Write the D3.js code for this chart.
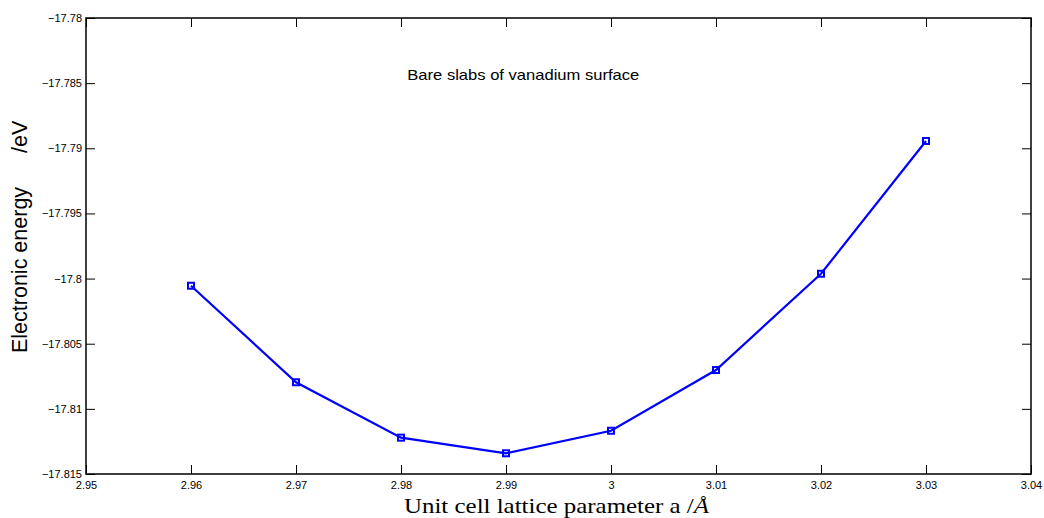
<!DOCTYPE html>
<html>
<head>
<meta charset="utf-8">
<script src="https://cdn.jsdelivr.net/npm/d3@7"></script>
<style>
  body { margin: 0; background: #fff; }
  text { font-family: "Liberation Sans", Arial, sans-serif; fill: #000; }
</style>
</head>
<body>
<div id="chart"></div>
<script>
// lattice parameter a (Angstrom) and the energy of the bare slab
const latticeA = [2.96, 2.97, 2.98, 2.99, 3.00, 3.01, 3.02, 3.03];
const energy = [-17.80055, -17.80796, -17.81221, -17.81341, -17.81168, -17.80702, -17.79963, -17.78944];

const xTicks = [2.95, 2.96, 2.97, 2.98, 2.99, 3.00, 3.01, 3.02, 3.03, 3.04];
const yTicks = [-17.78, -17.785, -17.79, -17.795, -17.8, -17.805, -17.81, -17.815];

let w = 1044;
let h = 518;
let m = { left: 86, right: 13, top: 18, bottom: 44 };
let tickLen = 9;

let svg = d3.select("#chart")
  .append("svg")
  .attr("width", w)
  .attr("height", h);

let x = d3.scaleLinear()
  .domain([2.95, 3.04])
  .range([m.left, w - m.right]);

let y = d3.scaleLinear()
  .domain([-17.815, -17.78])
  .range([h - m.bottom, m.top]);

// matlab style labels: minus sign, no trailing zeros
const fmt = d => {
  let s = String(+d.toFixed(4));
  return s.replace("-", "\u2212");
};

// axes, ticks point inward on all four sides
let xBottom = d3.axisBottom(x).tickValues(xTicks).tickSizeInner(-tickLen).tickSizeOuter(0).tickPadding(7).tickFormat(fmt);
let xTop = d3.axisTop(x).tickValues(xTicks).tickSizeInner(-tickLen).tickSizeOuter(0).tickFormat("");
let yLeft = d3.axisLeft(y).tickValues(yTicks).tickSizeInner(-tickLen).tickSizeOuter(0).tickPadding(4).tickFormat(fmt);
let yRight = d3.axisRight(y).tickValues(yTicks).tickSizeInner(-tickLen).tickSizeOuter(0).tickFormat("");

svg.append("g").attr("transform", `translate(0,${h - m.bottom})`).call(xBottom);
svg.append("g").attr("transform", `translate(0,${m.top})`).call(xTop);
svg.append("g").attr("transform", `translate(${m.left},0)`).call(yLeft);
svg.append("g").attr("transform", `translate(${w - m.right},0)`).call(yRight);

svg.selectAll(".domain").remove();
svg.selectAll(".tick line").attr("stroke", "#000").attr("stroke-width", 1);
svg.selectAll(".tick text").style("font-size", "11px").attr("fill", "#000");

// box
svg.append("rect")
  .attr("x", m.left)
  .attr("y", m.top)
  .attr("width", w - m.right - m.left)
  .attr("height", h - m.bottom - m.top)
  .attr("fill", "none")
  .attr("stroke", "#000")
  .attr("stroke-width", 1.5);

// data line
let pts = latticeA.map((a, i) => [a, energy[i]]);
let line = d3.line().x(d => x(d[0])).y(d => y(d[1]));

svg.append("path")
  .datum(pts)
  .attr("d", line)
  .attr("fill", "none")
  .attr("stroke", "#0000ff")
  .attr("stroke-width", 2.2);

// square markers
let ms = 6;
svg.selectAll("rect.marker")
  .data(pts)
  .enter()
  .append("rect")
  .attr("class", "marker")
  .attr("x", d => x(d[0]) - ms / 2)
  .attr("y", d => y(d[1]) - ms / 2)
  .attr("width", ms)
  .attr("height", ms)
  .attr("fill", "none")
  .attr("stroke", "#0000ff")
  .attr("stroke-width", 2);

// title inside the plot
svg.append("text")
  .attr("x", x(2.9806))
  .attr("y", 80)
  .attr("textLength", 232)
  .attr("lengthAdjust", "spacingAndGlyphs")
  .style("font-size", "14.5px")
  .text("Bare slabs of vanadium surface");

// axis labels
svg.append("text")
  .attr("x", 404)
  .attr("y", 513)
  .attr("textLength", 305)
  .attr("lengthAdjust", "spacingAndGlyphs")
  .style("font-family", "'Liberation Serif', 'DejaVu Serif', serif")
  .style("font-size", "21px")
  .html("Unit cell lattice parameter a /<tspan font-style='italic'>\u00C5</tspan>");

let yLab = svg.append("text")
  .attr("transform", `translate(27,353) rotate(-90)`)
  .style("font-size", "21.5px");
yLab.append("tspan").text("Electronic energy");
yLab.append("tspan").attr("x", 200).text("/eV");
</script>
</body>
</html>
